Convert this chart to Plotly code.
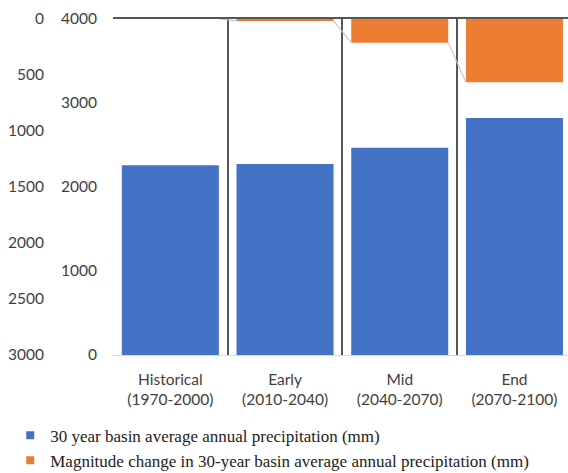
import plotly.graph_objects as go

# Periods on the category axis
categories = ["Historical<br>(1970-2000)", "Early<br>(2010-2040)",
              "Mid<br>(2040-2070)", "End<br>(2070-2100)"]
# 30-year basin average annual precipitation (mm)
precip = [2258, 2274, 2468, 2820]
# Magnitude change relative to the historical period (mm)
change = [0, 16, 211, 565]

blue_ticks = [0, 1000, 2000, 3000, 4000]
orange_ticks = [0, 500, 1000, 1500, 2000, 2500, 3000]

NAME_P = "30 year basin average annual precipitation (mm)"
NAME_C = "Magnitude change in 30-year basin average annual precipitation (mm)"

BLUE = "#4472C4"
ORANGE = "#ED7D31"
BAR_W = 0.846

W, H = 568, 473
left_px, top_px, bottom_px = 113, 19, 355

fig = go.Figure()

fig.add_trace(go.Bar(
    x=categories, y=precip, width=BAR_W, marker_color=BLUE,
    marker_line_width=0, name=NAME_P, showlegend=False,
    xaxis="x", yaxis="y",
))
fig.add_trace(go.Bar(
    x=list(range(len(change))), y=change, width=BAR_W, marker_color=ORANGE,
    marker_line_width=0, name=NAME_C, showlegend=False,
    xaxis="x2", yaxis="y2",
))

# Series lines joining the ends of consecutive change bars
sx, sy = [], []
for i in range(len(change) - 1):
    sx += [i + BAR_W / 2, i + 1 - BAR_W / 2, None]
    sy += [change[i], change[i + 1], None]
fig.add_trace(go.Scatter(
    x=sx, y=sy, mode="lines", line=dict(color="#c8c8c8", width=1.2),
    showlegend=False, hoverinfo="skip", xaxis="x2", yaxis="y2",
))

# Legend keys with small square swatches
for name, color, grp in [(NAME_P, BLUE, "p"), (NAME_C, ORANGE, "c")]:
    fig.add_trace(go.Scatter(
        x=[None], y=[None], mode="markers", name=name, legendgroup=grp,
        marker=dict(symbol="square", size=8, color=color),
        xaxis="x", yaxis="y",
    ))

x0 = left_px / W
y_lo = 1 - bottom_px / H
y_hi = 1 - top_px / H
xr_end = -0.5 + (W - left_px) / 114.7

tick_font = dict(family="Lato, Carlito, sans-serif", size=15.5, color="#404040")

fig.update_layout(
    width=W, height=H,
    margin=dict(l=0, r=0, t=0, b=0, autoexpand=False),
    paper_bgcolor="white", plot_bgcolor="white",
    barmode="overlay",
    xaxis=dict(
        domain=[x0, 1], type="category", range=[-0.5, xr_end],
        tickson="boundaries", showgrid=True, gridcolor="#555555", gridwidth=2,
        showline=True, linecolor="#d9d9d9", linewidth=1,
        ticks="", tickfont=tick_font, ticklabelstandoff=10, anchor="y",
    ),
    xaxis2=dict(
        domain=[x0, 1], range=[-0.5, xr_end], overlaying="x",
        showgrid=False, showticklabels=False, zeroline=False,
        showline=True, linecolor="#555555", linewidth=1.6,
        side="top", anchor="y2",
    ),
    yaxis=dict(
        domain=[y_lo, y_hi], range=[0, 4000], tickvals=blue_ticks,
        showgrid=False, zeroline=False, showline=False, ticks="",
        tickfont=tick_font, anchor="free", position=97 / W,
    ),
    yaxis2=dict(
        domain=[y_lo, y_hi], range=[3000, 0], tickvals=orange_ticks,
        overlaying="y", showgrid=False, zeroline=False, showline=False,
        ticks="", tickfont=tick_font, anchor="free", position=44 / W,
    ),
    legend=dict(
        orientation="v", x=0.018, xanchor="left", y=-0.012, yanchor="bottom",
        font=dict(family="Liberation Serif, Times New Roman, serif",
                  size=17, color="#222222"),
        tracegroupgap=10, itemwidth=30, traceorder="normal",
    ),
    showlegend=True,
)

fig.write_html("out.html")
